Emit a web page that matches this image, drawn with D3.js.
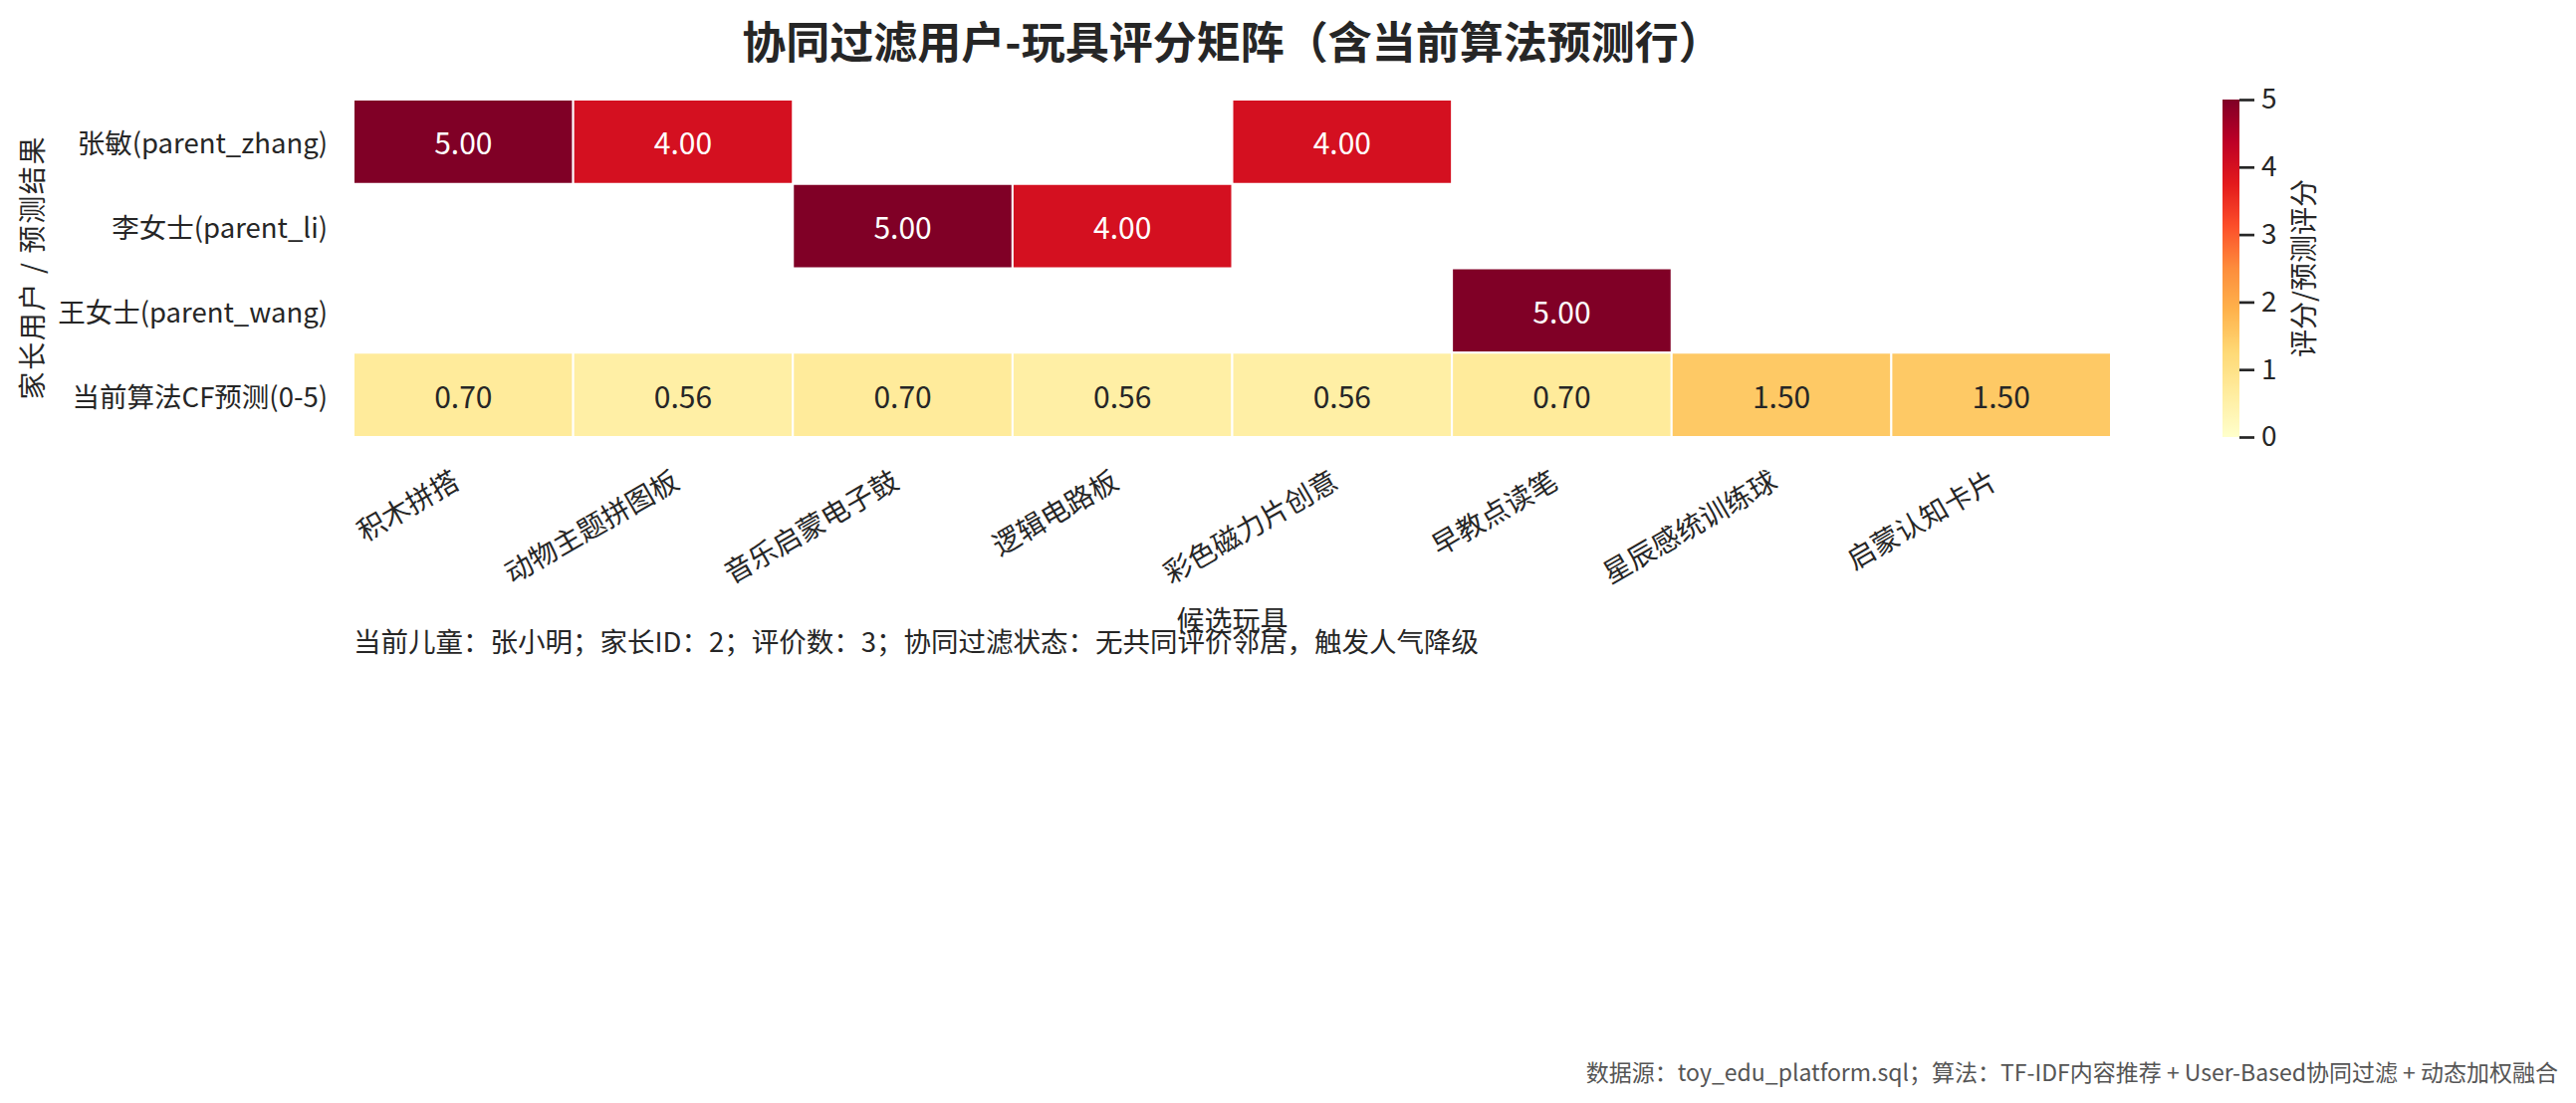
<!DOCTYPE html>
<html>
<head>
<meta charset="utf-8">
<script src="https://cdn.jsdelivr.net/npm/d3@7"></script>
<style>
  html, body { margin: 0; padding: 0; background: #ffffff; }
  svg text { font-family: "Noto Sans CJK SC", "Noto Sans", sans-serif; }
</style>
</head>
<body>
<svg id="chart" width="2587" height="1108"></svg>
<script>
// ---- data ----
const toys = ["积木拼搭", "动物主题拼图板", "音乐启蒙电子鼓", "逻辑电路板", "彩色磁力片创意", "早教点读笔", "星辰感统训练球", "启蒙认知卡片"];
const rowLabels = ["张敏(parent_zhang)", "李女士(parent_li)", "王女士(parent_wang)", "当前算法CF预测(0-5)"];
const zhangRatings = [5, 4, null, null, 4, null, null, null];
const liRatings = [null, null, 5, 4, null, null, null, null];
const wangRatings = [null, null, null, null, null, 5, null, null];
const cfPrediction = [0.70, 0.56, 0.70, 0.56, 0.56, 0.70, 1.50, 1.50];
const colorbarTicks = [0, 1, 2, 3, 4, 5];
const titleText = "协同过滤用户-玩具评分矩阵（含当前算法预测行）";
const xLabel = "候选玩具";
const yLabel = "家长用户 / 预测结果";
const cbarLabel = "评分/预测评分";
const noteText = "当前儿童：张小明；家长ID：2；评价数：3；协同过滤状态：无共同评价邻居，触发人气降级";
const footerText = "数据源：toy_edu_platform.sql；算法：TF-IDF内容推荐 + User-Based协同过滤 + 动态加权融合";

const matrix = [zhangRatings, liRatings, wangRatings, cfPrediction];

// matplotlib YlOrRd (linear segmented)
const ylorrdStops = ["#ffffcc", "#ffeda0", "#fed976", "#feb24c", "#fd8d3c", "#fc4e2a", "#e31a1c", "#bd0026", "#800026"];
const ylorrd = d3.scaleLinear()
  .domain(d3.range(ylorrdStops.length).map(i => i / (ylorrdStops.length - 1)))
  .range(ylorrdStops)
  .interpolate(d3.interpolateRgb);
const color = v => ylorrd(Math.max(0, Math.min(1, v / 5)));

const textColor = "#262626";
const svg = d3.select("#chart");

// layout
const plotLeft = 355, plotRight = 2120, plotTop = 100, plotBottom = 439;

const x = d3.scaleBand().domain(toys).range([plotLeft, plotRight]);
const y = d3.scaleBand().domain(rowLabels).range([plotTop, plotBottom]);

// cells
const cells = [];
matrix.forEach((row, ri) => row.forEach((v, ci) => {
  if (v !== null) cells.push({ r: rowLabels[ri], c: toys[ci], v });
}));

svg.append("g").selectAll("rect").data(cells).join("rect")
  .attr("x", d => x(d.c))
  .attr("y", d => y(d.r))
  .attr("width", x.bandwidth())
  .attr("height", y.bandwidth())
  .attr("fill", d => color(d.v))
  .attr("stroke", "#ffffff")
  .attr("stroke-width", 2);

function lum(c) {
  const rgb = d3.rgb(c);
  const f = u => { u /= 255; return u <= 0.03928 ? u / 12.92 : Math.pow((u + 0.055) / 1.055, 2.4); };
  return 0.2126 * f(rgb.r) + 0.7152 * f(rgb.g) + 0.0722 * f(rgb.b);
}

svg.append("g").selectAll("text").data(cells).join("text")
  .attr("x", d => x(d.c) + x.bandwidth() / 2)
  .attr("y", d => y(d.r) + y.bandwidth() / 2)
  .attr("text-anchor", "middle")
  .attr("dominant-baseline", "central")
  .attr("font-size", 30)
  .attr("fill", d => lum(color(d.v)) > 0.408 ? textColor : "#ffffff")
  .text(d => d.v.toFixed(2));

// y tick labels
svg.append("g").selectAll("text").data(rowLabels).join("text")
  .attr("x", 329)
  .attr("y", d => y(d) + y.bandwidth() / 2)
  .attr("text-anchor", "end")
  .attr("dominant-baseline", "central")
  .attr("font-size", 27.5)
  .attr("fill", textColor)
  .text(d => d);

// x tick labels (rotated 30°)
svg.append("g").selectAll("text").data(toys).join("text")
  .attr("transform", d => `translate(${x(d) + x.bandwidth() / 2 - 2},${489}) rotate(-30)`)
  .attr("text-anchor", "end")
  .attr("font-size", 28)
  .attr("fill", textColor)
  .text(d => d);

// title
svg.append("text")
  .attr("x", (plotLeft + plotRight) / 2)
  .attr("y", 40)
  .attr("text-anchor", "middle")
  .attr("dominant-baseline", "central")
  .attr("font-size", 44)
  .attr("font-weight", "bold")
  .attr("fill", textColor)
  .text(titleText);

// axis labels
svg.append("text")
  .attr("x", (plotLeft + plotRight) / 2)
  .attr("y", 622)
  .attr("text-anchor", "middle")
  .attr("dominant-baseline", "central")
  .attr("font-size", 28)
  .attr("fill", textColor)
  .text(xLabel);

svg.append("text")
  .attr("transform", `translate(31,${(plotTop + plotBottom) / 2}) rotate(-90)`)
  .attr("text-anchor", "middle")
  .attr("dominant-baseline", "central")
  .attr("font-size", 28)
  .attr("textLength", 264)
  .attr("lengthAdjust", "spacing")
  .attr("fill", textColor)
  .text(yLabel);

// note
svg.append("text")
  .attr("x", plotLeft)
  .attr("y", 643)
  .attr("dominant-baseline", "central")
  .attr("font-size", 27.5)
  .attr("fill", textColor)
  .text(noteText);

// colorbar
const cbX = 2232, cbW = 17;
const defs = svg.append("defs");
const grad = defs.append("linearGradient").attr("id", "cbgrad")
  .attr("x1", 0).attr("y1", 1).attr("x2", 0).attr("y2", 0);
d3.range(0, 1.0001, 0.01).forEach(t => {
  grad.append("stop").attr("offset", t).attr("stop-color", ylorrd(t));
});
svg.append("rect")
  .attr("x", cbX).attr("y", plotTop)
  .attr("width", cbW).attr("height", plotBottom - plotTop)
  .attr("fill", "url(#cbgrad)");

const cbScale = d3.scaleLinear().domain([0, 5]).range([plotBottom, plotTop]);
const cbAxis = svg.append("g")
  .attr("transform", `translate(${cbX + cbW},0)`)
  .call(d3.axisRight(cbScale).tickValues(colorbarTicks).tickSize(15).tickPadding(7).tickFormat(d3.format("d")));
cbAxis.select(".domain").remove();
cbAxis.selectAll(".tick line").attr("stroke", textColor).attr("stroke-width", 2.7);
cbAxis.selectAll(".tick text").attr("fill", textColor).attr("font-size", 28)
  .attr("font-family", "\"Noto Sans CJK SC\", sans-serif");

svg.append("text")
  .attr("transform", `translate(2312,${(plotTop + plotBottom) / 2}) rotate(-90)`)
  .attr("text-anchor", "middle")
  .attr("dominant-baseline", "central")
  .attr("font-size", 28)
  .attr("fill", textColor)
  .text(cbarLabel);

// footer
svg.append("text")
  .attr("x", 2569)
  .attr("y", 1076)
  .attr("text-anchor", "end")
  .attr("dominant-baseline", "central")
  .attr("font-size", 23)
  .attr("fill", "#555555")
  .text(footerText);
</script>
</body>
</html>
